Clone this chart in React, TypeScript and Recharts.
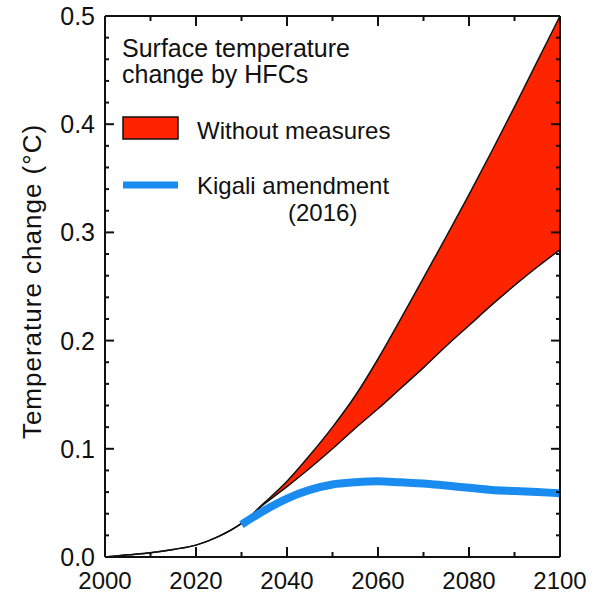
import React from "react";
import { Area, ComposedChart, Label, Line, XAxis, YAxis } from "recharts";

// years every 5
const years = [2000, 2005, 2010, 2015, 2020, 2025, 2030, 2035, 2040, 2045, 2050, 2055, 2060, 2065, 2070, 2075, 2080, 2085, 2090, 2095, 2100];
// upper / lower edge of the "without measures" range
const withoutHigh = [0, 0.002, 0.004, 0.007, 0.011, 0.019, 0.031, 0.05, 0.07, 0.094, 0.12, 0.149, 0.183, 0.22, 0.258, 0.296, 0.335, 0.375, 0.416, 0.458, 0.5];
const withoutLow = [0, 0.002, 0.004, 0.007, 0.011, 0.019, 0.031, 0.049, 0.065, 0.082, 0.1, 0.119, 0.137, 0.156, 0.175, 0.195, 0.214, 0.233, 0.251, 0.268, 0.284];
const kigali = [null, null, null, null, null, null, 0.03, 0.043, 0.054, 0.062, 0.067, 0.069, 0.07, 0.069, 0.068, 0.066, 0.064, 0.062, 0.061, 0.06, 0.059];

const xTicks = [2000, 2010, 2020, 2030, 2040, 2050, 2060, 2070, 2080, 2090, 2100];
const yTicks = [0, 0.02, 0.04, 0.06, 0.08, 0.1, 0.12, 0.14, 0.16, 0.18, 0.2, 0.22, 0.24, 0.26, 0.28, 0.3, 0.32, 0.34, 0.36, 0.38, 0.4, 0.42, 0.44, 0.46, 0.48, 0.5];

const title = ["Surface temperature", "change by HFCs"];
const seriesNames = ["Without measures", "Kigali amendment", "(2016)"];

const RED = "#ff2400";
const BLUE = "#1a8cf0";
const INK = "#111111";
const FONT = "'Liberation Sans', Arial, Helvetica, sans-serif";

// plot frame (set by the margins / axis sizes below)
const PLOT_TOP = 16;
const PLOT_RIGHT = 560;

const data = years.map((year, i) => ({
    year,
    high: withoutHigh[i],
    low: withoutLow[i],
    band: [withoutLow[i], withoutHigh[i]],
    kigali: kigali[i],
}));

const isMajorX = (v: number) => v % 20 === 0;
const isMajorY = (v: number) => Math.abs(v * 10 - Math.round(v * 10)) < 1e-6;

// bottom ticks, mirrored on the top edge, pointing inward
const BottomTick = ({ x, y, payload }: any) => {
    const major = isMajorX(payload.value);
    const len = major ? 10 : 5;
    return (
        <g>
            <line x1={x} x2={x} y1={y} y2={Number(y) - len} stroke={INK} strokeWidth={2} />
            <line x1={x} x2={x} y1={PLOT_TOP} y2={PLOT_TOP + len} stroke={INK} strokeWidth={2} />
            {major && (
                <text x={x} y={Number(y) + 32} textAnchor="middle" fontSize={24} fill={INK} fontFamily={FONT}>
                    {payload.value}
                </text>
            )}
        </g>
    );
};

// left ticks, mirrored on the right edge
const LeftTick = ({ x, y, payload }: any) => {
    const major = isMajorY(payload.value);
    const len = major ? 9 : 4;
    return (
        <g>
            <line x1={x} x2={Number(x) + len} y1={y} y2={y} stroke={INK} strokeWidth={2} />
            <line x1={PLOT_RIGHT} x2={PLOT_RIGHT - len} y1={y} y2={y} stroke={INK} strokeWidth={2} />
            {major && (
                <text x={Number(x) - 10} y={Number(y) + 9} textAnchor="end" fontSize={25} fill={INK} fontFamily={FONT}>
                    {Number(payload.value).toFixed(1)}
                </text>
            )}
        </g>
    );
};

// in-plot key, laid over the chart
const LegendBox = () => (
    <svg width={603} height={594} style={{ position: "absolute", left: 0, top: 0, pointerEvents: "none" }}>
        <g fontFamily={FONT} fill={INK}>
            <text x={122} y={57} fontSize={25}>{title[0]}</text>
            <text x={122} y={83} fontSize={25}>{title[1]}</text>
            <rect x={123} y={117} width={55} height={22} fill={RED} stroke={INK} strokeWidth={1.5} />
            <text x={197} y={139} fontSize={24}>{seriesNames[0]}</text>
            <line x1={123} x2={178} y1={185} y2={185} stroke={BLUE} strokeWidth={7} />
            <text x={197} y={194} fontSize={24}>{seriesNames[1]}</text>
            <text x={288} y={221} fontSize={24}>{seriesNames[2]}</text>
        </g>
    </svg>
);

export default function App() {
    const axisLine = { stroke: INK, strokeWidth: 2 };
    return (
        <div style={{ position: "absolute", left: 0, top: 0, fontFamily: FONT }}>
            <ComposedChart width={603} height={594} data={data} margin={{ top: 0, right: 0, bottom: 0, left: 0 }}>
                <XAxis xAxisId="b" dataKey="year" type="number" domain={[2000, 2100]} ticks={xTicks} interval={0} height={37} tickSize={0} tickMargin={0} tick={<BottomTick />} tickLine={false} axisLine={axisLine} />
                <XAxis xAxisId="t" orientation="top" dataKey="year" type="number" domain={[2000, 2100]} ticks={xTicks} interval={0} height={16} tick={false} tickLine={false} axisLine={axisLine} />
                <YAxis yAxisId="l" type="number" domain={[0, 0.5]} ticks={yTicks} interval={0} width={105} tickSize={0} tickMargin={0} tick={<LeftTick />} tickLine={false} axisLine={axisLine}>
                    <Label
                        value="Temperature change (°C)"
                        angle={-90}
                        position="center"
                        dx={-21}
                        dy={-5}
                        style={{ fontSize: 26, fill: INK, fontFamily: FONT, letterSpacing: "1px" }}
                    />
                </YAxis>
                <YAxis yAxisId="r" orientation="right" type="number" domain={[0, 0.5]} ticks={yTicks} interval={0} width={43} tick={false} tickLine={false} axisLine={axisLine} />
                <Area xAxisId="b" yAxisId="l" dataKey="band" type="monotone" fill={RED} fillOpacity={1} stroke="none" isAnimationActive={false} />
                {/* keeps the mirrored top / right axes tied to the data */}
                <Line xAxisId="t" yAxisId="r" dataKey="high" type="monotone" stroke="none" dot={false} isAnimationActive={false} />
                <Line xAxisId="b" yAxisId="l" dataKey="high" type="monotone" stroke={INK} strokeWidth={1.5} dot={false} isAnimationActive={false} />
                <Line xAxisId="b" yAxisId="l" dataKey="low" type="monotone" stroke={INK} strokeWidth={1.5} dot={false} isAnimationActive={false} />
                <Line xAxisId="b" yAxisId="l" dataKey="kigali" type="monotone" stroke={BLUE} strokeWidth={8} dot={false} isAnimationActive={false} />
            </ComposedChart>
            <LegendBox />
        </div>
    );
}
